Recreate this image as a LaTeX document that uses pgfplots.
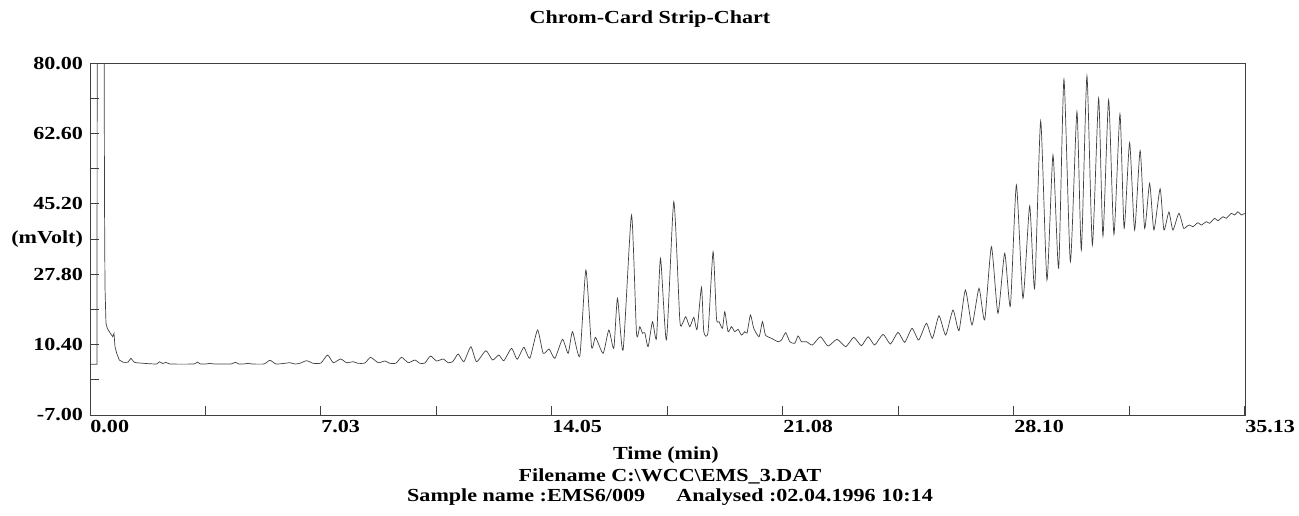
\documentclass[border=0pt]{standalone}
\usepackage{fontspec}
\setmainfont{Liberation Serif}[FakeStretch=1.2]
\usepackage{pgfplots}
\pgfplotsset{compat=1.18}
\newcommand{\lbl}{\fontsize{9.2pt}{11pt}\selectfont\bfseries}
\begin{document}
\begin{tikzpicture}
\path[use as bounding box] (-45pt,-50pt) rectangle (604.5pt,207.5pt);
\begin{axis}[
 at={(0pt,0pt)}, anchor=south west,
 scale only axis, width=577.5pt, height=176pt,
 xmin=0, xmax=35.13, ymin=-7, ymax=80,
 axis line style={black!75, line width=0.5pt},
 tick align=inside, xtick pos=bottom, ytick pos=left,
 major tick length=4.5pt, minor tick length=4.5pt,
 tick style={black!75, line width=0.5pt},
 xtick={0,7.025,14.05,21.075,28.1,35.125},
 xticklabels={0.00,7.03,14.05,21.08,28.10,35.13},
 minor xtick={3.5125,10.5375,17.5625,24.5875,31.6125},
 ytick={-7,10.4,27.8,45.2,62.6,80},
 yticklabels={-7.00,10.40,27.80,45.20,62.60,80.00},
 minor ytick={1.7,19.1,53.9,71.3},
 extra y ticks={36.5}, extra y tick labels={(mVolt)},
 tick label style={font=\lbl},
 xticklabel style={anchor=north west, inner xsep=0pt, inner ysep=2.5pt},
 clip=true,
]
\addplot[black!75, line width=0.35pt] coordinates {
(0,5.53) (0.213,5.53) (0.22,100) (0.426,100) (0.441,46.1) (0.456,24.7)
(0.486,15.66) (0.526,14.43) (0.608,13.34) (0.690,12.35) (0.730,13.19)
(0.760,9.88) (0.812,8.25) (0.891,6.59) (1.012,6.03)
};
\addplot[black!75, line width=0.35pt, smooth, tension=0.35] coordinates {
(1.012,6.03) (1.155,6.03) (1.247,7.01)
(1.347,6.03) (1.621,5.78) (2.028,5.61) (2.107,6.17) (2.210,5.73) (2.311,6.03)
(2.432,5.61) (3.162,5.61) (3.262,6.10) (3.360,5.61) (3.527,5.61) (3.648,5.78)
(3.770,5.61) (4.287,5.61) (4.418,6.03) (4.530,5.61) (4.682,5.61) (4.813,5.78)
(4.925,5.61) (5.290,5.61) (5.473,6.52) (5.655,5.61) (5.929,5.78) (6.081,5.93)
(6.233,5.61) (6.385,5.78) (6.589,6.42) (6.789,5.78) (7.023,5.85) (7.227,7.83)
(7.397,5.93) (7.622,6.84) (7.805,5.93) (8.006,6.17) (8.148,5.78) (8.361,5.85)
(8.534,7.26) (8.766,5.93) (8.969,6.35) (9.121,5.78) (9.304,5.78) (9.477,7.26)
(9.678,5.93) (9.882,6.59) (10.033,5.78) (10.185,5.85) (10.359,7.58) (10.541,6.35)
(10.742,6.84) (10.894,5.93) (11.037,6.22) (11.198,8.08) (11.371,6.17) (11.584,9.88)
(11.757,6.17) (12.040,8.89) (12.244,6.59) (12.435,7.83) (12.587,6.42) (12.821,9.49)
(12.992,6.77) (13.196,9.73) (13.378,7.01) (13.612,14.01) (13.782,8.25) (13.965,9.31)
(14.138,7.01) (14.372,11.71) (14.543,8.25) (14.676,13.59) (14.898,7.58) (15.082,28.84)
(15.254,9.88) (15.376,12.20) (15.607,8.25) (15.780,14.01) (15.932,9.49) (16.044,21.84)
(16.215,9.07) (16.470,42.43) (16.622,13.19) (16.722,14.82) (16.804,13.19) (16.874,13.34)
(16.975,9.88) (17.108,16.06) (17.230,11.96) (17.352,31.73) (17.534,11.54) (17.756,45.72)
(17.939,16.48) (18.021,15.66) (18.121,17.30) (18.243,14.82) (18.364,17.15) (18.465,14.18)
(18.599,24.56) (18.669,13.59) (18.799,13.59) (18.951,33.36) (19.055,16.90) (19.133,16.06)
(19.237,14.43) (19.307,18.53) (19.407,13.59) (19.511,14.82) (19.611,13.59) (19.711,14.18)
(19.815,12.77) (19.915,13.59) (19.985,13.27) (20.088,17.72) (20.188,14.43) (20.350,12.35)
(20.453,16.06) (20.544,12.77) (20.727,11.96) (20.927,11.12) (21.031,11.54) (21.161,13.34)
(21.283,11.12) (21.435,10.72) (21.536,12.53) (21.639,11.12) (21.791,11.12) (21.973,10.30)
(22.216,12.35) (22.447,10.05) (22.721,11.71) (22.986,9.88) (23.229,12.20) (23.463,10.13)
(23.664,12.35) (23.867,10.30) (24.120,12.95) (24.345,10.55) (24.576,13.44) (24.780,10.97)
(25.001,14.43) (25.205,11.54) (25.439,15.66) (25.622,11.96) (25.822,17.54) (26.026,12.77)
(26.248,18.95) (26.430,13.84) (26.625,23.90) (26.826,15.24) (27.039,24.31) (27.212,16.48)
(27.416,34.60) (27.616,18.14) (27.820,32.97) (27.993,19.94) (28.176,49.85) (28.376,21.84)
(28.580,44.66) (28.732,24.31) (28.915,65.67) (29.106,26.37) (29.289,57.26) (29.462,29.26)
(29.623,75.97) (29.818,30.89) (30.018,67.96) (30.152,33.78) (30.322,76.79) (30.487,35.02)
(30.678,71.28) (30.809,37.24) (30.982,70.86) (31.143,37.66) (31.326,67.40) (31.453,39.14)
(31.620,60.30) (31.772,38.72) (31.940,58.37) (32.077,39.14) (32.229,50.27) (32.359,38.72)
(32.548,48.91) (32.663,38.72) (32.815,43.17) (32.937,38.72) (33.119,42.85) (33.262,39.14)
(33.344,39.54) (33.445,39.96) (33.545,39.54) (33.697,40.53) (33.801,39.96) (33.953,40.78)
(34.053,40.38) (34.205,41.62) (34.306,41.02) (34.458,42.01) (34.561,41.62) (34.713,42.85)
(34.814,42.43) (34.914,43.25) (35.018,42.43) (35.118,42.85)
};
\end{axis}
\node[font=\lbl] at (280pt,198pt) {Chrom-Card Strip-Chart};
\node[font=\lbl] at (288pt,-20pt) {Time (min)};
\node[font=\lbl] at (290pt,-30.5pt) {Filename C:\textbackslash WCC\textbackslash EMS\_3.DAT};
\node[font=\lbl] at (290pt,-41pt) {Sample name :EMS6/009\hspace{1.7em}Analysed :02.04.1996 10:14};
\end{tikzpicture}
\end{document}
